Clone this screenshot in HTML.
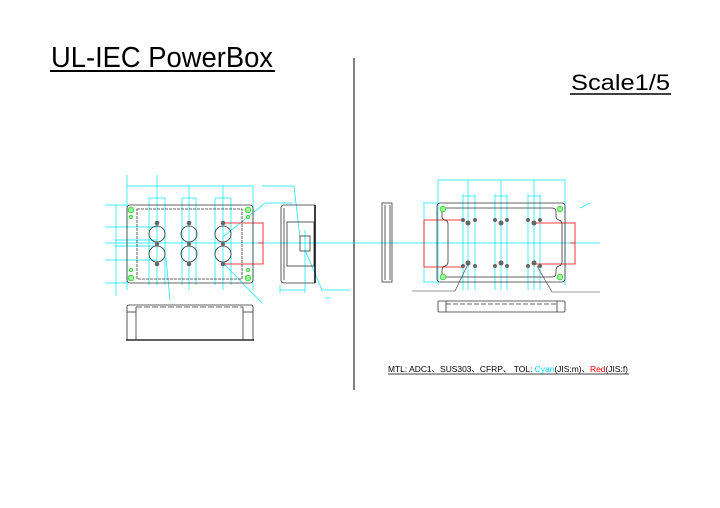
<!DOCTYPE html>
<html><head><meta charset="utf-8"><style>
html,body{margin:0;padding:0;background:#fff;}
svg{display:block;}
text{font-family:"Liberation Sans","Noto Sans CJK JP",sans-serif;}
</style></head><body>
<svg width="720" height="508" viewBox="0 0 720 508" xmlns="http://www.w3.org/2000/svg">
<rect width="720" height="508" fill="#fff"/>
<!-- titles -->
<text x="51" y="67" font-size="29" textLength="222" lengthAdjust="spacingAndGlyphs">UL-IEC PowerBox</text>
<line x1="50" y1="71" x2="275" y2="71" stroke="#000" stroke-width="2"/>
<text x="571" y="90" font-size="22" textLength="99" lengthAdjust="spacingAndGlyphs">Scale1/5</text>
<line x1="570" y1="94" x2="671" y2="94" stroke="#000" stroke-width="1.5"/>
<line x1="354" y1="58" x2="354" y2="390" stroke="#000" stroke-width="1"/>
<!-- note -->
<text x="388" y="372" font-size="8.5" textLength="240" lengthAdjust="spacingAndGlyphs">MTL: ADC1、SUS303、CFRP、  TOL: <tspan fill="#00e5ff">Cyan</tspan>(JIS:m)、<tspan fill="#ff0000">Red</tspan>(JIS:f)</text>
<line x1="388" y1="374" x2="629" y2="374" stroke="#000" stroke-width="0.8"/>

<g stroke="#00e5ff" stroke-width="0.7" fill="none">
<!-- global centerline -->
<line x1="105" y1="243" x2="600" y2="243"/>
<!-- left dims -->
<line x1="127" y1="175" x2="127" y2="290"/>
<line x1="157" y1="175" x2="157" y2="285"/>
<line x1="127" y1="186" x2="253" y2="186"/>
<line x1="253" y1="186" x2="253" y2="290"/>
<line x1="149" y1="198" x2="149" y2="285"/><line x1="165" y1="198" x2="165" y2="285"/><line x1="149" y1="198" x2="165" y2="198"/>
<line x1="182" y1="198" x2="182" y2="285"/><line x1="196" y1="198" x2="196" y2="285"/><line x1="189" y1="186" x2="189" y2="290"/><line x1="182" y1="198" x2="196" y2="198"/>
<line x1="215" y1="198" x2="215" y2="285"/><line x1="231" y1="198" x2="231" y2="285"/><line x1="223" y1="186" x2="223" y2="290"/><line x1="215" y1="198" x2="231" y2="198"/>
<line x1="105" y1="205" x2="127" y2="205"/><line x1="105" y1="283" x2="127" y2="283"/>
<line x1="116" y1="205" x2="116" y2="296"/>
<line x1="105" y1="227" x2="157" y2="227"/><line x1="105" y1="260" x2="157" y2="260"/>
<line x1="115" y1="240" x2="157" y2="240"/><line x1="115" y1="246" x2="157" y2="246"/>
<line x1="223" y1="237" x2="265" y2="203"/><line x1="265" y1="203" x2="292" y2="203"/>
<line x1="223" y1="263" x2="262" y2="303"/>
<line x1="166" y1="258" x2="170" y2="300"/>
<line x1="262" y1="186" x2="294" y2="186"/><line x1="294" y1="186" x2="300" y2="238"/>
<line x1="305" y1="250" x2="322" y2="290"/><line x1="322" y1="290" x2="350" y2="290"/>
<line x1="280" y1="290" x2="305" y2="290"/><line x1="280" y1="285" x2="280" y2="293"/><line x1="305" y1="230" x2="305" y2="293"/>
<line x1="325" y1="298" x2="330" y2="298"/>
<!-- right dims -->
<line x1="438" y1="180" x2="438" y2="285"/><line x1="565" y1="180" x2="565" y2="285"/>
<line x1="438" y1="180" x2="565" y2="180"/>
<line x1="463" y1="194" x2="463" y2="290"/><line x1="468" y1="180" x2="468" y2="290"/><line x1="475" y1="194" x2="475" y2="290"/><line x1="463" y1="196" x2="475" y2="196"/>
<line x1="495" y1="194" x2="495" y2="290"/><line x1="501" y1="180" x2="501" y2="290"/><line x1="507" y1="194" x2="507" y2="290"/><line x1="495" y1="196" x2="507" y2="196"/>
<line x1="528" y1="194" x2="528" y2="290"/><line x1="534" y1="180" x2="534" y2="290"/><line x1="540" y1="194" x2="540" y2="290"/><line x1="528" y1="196" x2="540" y2="196"/>
<line x1="423" y1="203" x2="438" y2="203"/><line x1="423" y1="282" x2="438" y2="282"/><line x1="424" y1="203" x2="424" y2="282"/>
<line x1="580" y1="208" x2="590" y2="203"/>
</g>
<!-- red tolerances -->
<g stroke="#ff0000" stroke-width="0.8" fill="none">
<polyline points="223,223 263,223 263,264 223,264"/><line x1="258" y1="243" x2="263" y2="243"/>
<polyline points="463,220 424,220 424,267 463,267"/>
<polyline points="534,223 575,223 575,264 534,264"/><line x1="570" y1="243" x2="575" y2="243"/>
</g>
<!-- left front plate -->
<g stroke="#333" stroke-width="0.8" fill="none">
<rect x="127" y="205" width="126" height="78" rx="3"/>
<rect x="137" y="209" width="105" height="70" stroke-dasharray="3,1"/>
</g>
<g stroke="#333" stroke-width="0.8" fill="none">
<circle cx="157" cy="234" r="8"/><circle cx="157" cy="254" r="8"/>
<circle cx="189" cy="234" r="8"/><circle cx="189" cy="254" r="8"/>
<circle cx="223" cy="234" r="8"/><circle cx="223" cy="254" r="8"/>
</g>
<g fill="#666">
<circle cx="157" cy="223" r="2.3"/><circle cx="157" cy="244" r="2"/><circle cx="157" cy="264" r="2.3"/>
<circle cx="189" cy="223" r="2.3"/><circle cx="189" cy="244" r="2"/><circle cx="189" cy="264" r="2.3"/>
<circle cx="223" cy="223" r="2.3"/><circle cx="223" cy="244" r="2"/><circle cx="223" cy="264" r="2.3"/>
</g>
<g fill="#9f9" stroke="#3c3" stroke-width="0.8">
<circle cx="131" cy="210" r="2.8"/><circle cx="248" cy="210" r="2.8"/><circle cx="131" cy="278" r="2.8"/><circle cx="248" cy="278" r="2.8"/>
<circle cx="131" cy="217" r="1.6"/><circle cx="248" cy="217" r="1.6"/><circle cx="131" cy="270" r="1.6"/><circle cx="248" cy="270" r="1.6"/>
</g>
<!-- left side view -->
<g stroke="#333" stroke-width="0.8" fill="none">
<path d="M315,205 H284 Q281,205 281,208 V280 Q281,283 284,283 H315"/>
<line x1="315" y1="205" x2="315" y2="283" stroke-width="1.5" stroke="#000"/>
<line x1="284" y1="208" x2="284" y2="280"/>
<rect x="287" y="222" width="27" height="44"/>
<rect x="300" y="236" width="10" height="15"/>
</g>
<!-- left bottom view -->
<g stroke="#333" stroke-width="0.8" fill="none">
<path d="M127,340 V307 Q127,305 129,305 H251 Q253,305 253,307 V340"/>
<line x1="126" y1="340" x2="254" y2="340" stroke="#000" stroke-width="1.3"/>
<line x1="136" y1="307" x2="136" y2="340"/><line x1="243" y1="307" x2="243" y2="340"/>
<line x1="127" y1="312" x2="136" y2="312"/><line x1="243" y1="312" x2="253" y2="312"/>
<line x1="136" y1="307" x2="243" y2="307" stroke-dasharray="6,2"/>
</g>
<!-- right side view -->
<g stroke="#333" stroke-width="0.8" fill="none">
<rect x="382" y="203" width="10" height="79"/>
<line x1="385" y1="205" x2="385" y2="280"/><line x1="390" y1="205" x2="390" y2="280"/>
</g>
<!-- right back plate -->
<g stroke="#333" stroke-width="0.8" fill="none">
<rect x="437" y="203" width="128" height="79" rx="3"/>
<path d="M446,208 H552 Q556,208 556,212 V217 Q556,219 559,220 Q562,221 562,224 V262 Q562,265 559,266 Q556,267 556,270 V273 Q556,277 552,277 H446 Q442,277 442,273 V270 Q442,267 445,266 Q448,265 448,262 V224 Q448,221 445,220 Q442,219 442,217 V212 Q442,208 446,208 Z"/>
</g>
<g fill="#666">
<circle cx="463" cy="220" r="2"/><circle cx="468" cy="223" r="2.5"/><circle cx="475" cy="220" r="2"/>
<circle cx="495" cy="220" r="2"/><circle cx="501" cy="223" r="2.5"/><circle cx="507" cy="220" r="2"/>
<circle cx="528" cy="220" r="2"/><circle cx="534" cy="223" r="2.5"/><circle cx="540" cy="220" r="2"/>
<circle cx="463" cy="266" r="2"/><circle cx="468" cy="263" r="2.5"/><circle cx="475" cy="266" r="2"/>
<circle cx="495" cy="266" r="2"/><circle cx="501" cy="263" r="2.5"/><circle cx="507" cy="266" r="2"/>
<circle cx="528" cy="266" r="2"/><circle cx="534" cy="263" r="2.5"/><circle cx="540" cy="266" r="2"/>
</g>
<g fill="#9f9" stroke="#3c3" stroke-width="0.8">
<circle cx="443" cy="209" r="2.8"/><circle cx="560" cy="209" r="2.8"/><circle cx="443" cy="277" r="2.8"/><circle cx="560" cy="277" r="2.8"/>
</g>
<g stroke="#333" stroke-width="0.6" fill="none">
<polyline points="468,264 455,291 412,291"/>
<polyline points="537,266 552,292 600,292"/>
</g>
<!-- right bottom view -->
<g stroke="#333" stroke-width="0.8" fill="none">
<rect x="438" y="301" width="127" height="11" rx="1"/>
<line x1="446" y1="301" x2="446" y2="312"/><line x1="557" y1="301" x2="557" y2="312"/>
<line x1="446" y1="304" x2="557" y2="304" stroke-dasharray="5,2"/>
</g>
</svg>
</body></html>
